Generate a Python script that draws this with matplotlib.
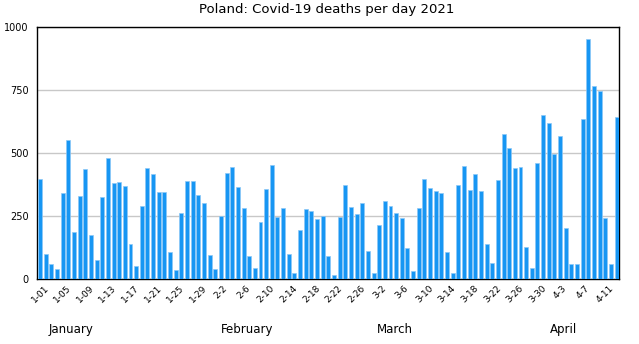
import numpy as np
import matplotlib.pyplot as plt

# daily deaths, 1 Jan .. 13 Apr 2021
deaths = [398, 100, 61, 42, 341, 552, 187, 331, 438, 176,
          77, 327, 481, 381, 386, 370, 142, 52, 291, 443,
          419, 347, 347, 110, 37, 263, 389, 389, 336, 303,
          98, 42, 251, 421, 444, 368, 283, 94, 45, 228,
          358, 455, 246, 284, 99, 25, 197, 279, 272, 241,
          251, 94, 17, 246, 373, 286, 258, 303, 114, 24,
          216, 310, 290, 263, 245, 124, 33, 282, 397, 364,
          351, 343, 110, 26, 373, 451, 356, 418, 349, 140,
          65, 396, 575, 520, 442, 447, 130, 46, 460, 652,
          619, 499, 570, 204, 62, 61, 638, 954, 767, 749,
          243, 61, 643]
month_days = [31, 28, 31, 30]
months = ["January", "February", "March", "April"]
month_label_x = [5.4, 36.6, 62.8, 92.7]

# date labels m-dd
labels = []
m, d = 1, 1
for i in range(len(deaths)):
    labels.append(f"{m}-{d:02d}" if m == 1 else f"{m}-{d}")
    d += 1
    if d > month_days[m - 1]:
        m, d = m + 1, 1

x = np.arange(len(deaths))

fig = plt.figure(figsize=(6.39, 3.44), dpi=100)
ax = fig.add_axes([0.058, 0.188, 0.911, 0.7326])

ax.bar(x, deaths, width=0.7, color='#1796f3', edgecolor='#8cc8f7', linewidth=0.5, zorder=3)
ax.set_xlim(-0.53, 102.46)
ax.set_ylim(0, 1000)
ax.set_yticks([0, 250, 500, 750, 1000])
ax.tick_params(axis='y', length=0, labelsize=7, pad=6)
ax.yaxis.grid(True, color='#c8c8c8', linewidth=1, zorder=0)

ticks = x[::4]
ax.set_xticks(ticks)
ax.set_xticklabels([labels[i] for i in ticks], rotation=45, ha='center', fontsize=6.5)
ax.tick_params(axis='x', length=0, pad=3)

for sp in ax.spines.values():
    sp.set_color('black')
    sp.set_linewidth(1)

for lab, xx in zip(months, month_label_x):
    ax.text(xx, -0.2, lab, transform=ax.get_xaxis_transform(), ha='center', va='center', fontsize=8.5)

fig.suptitle("Poland: Covid-19 deaths per day 2021", x=0.512, y=0.99, fontsize=9.5)

fig.savefig("out.png", dpi=100)
